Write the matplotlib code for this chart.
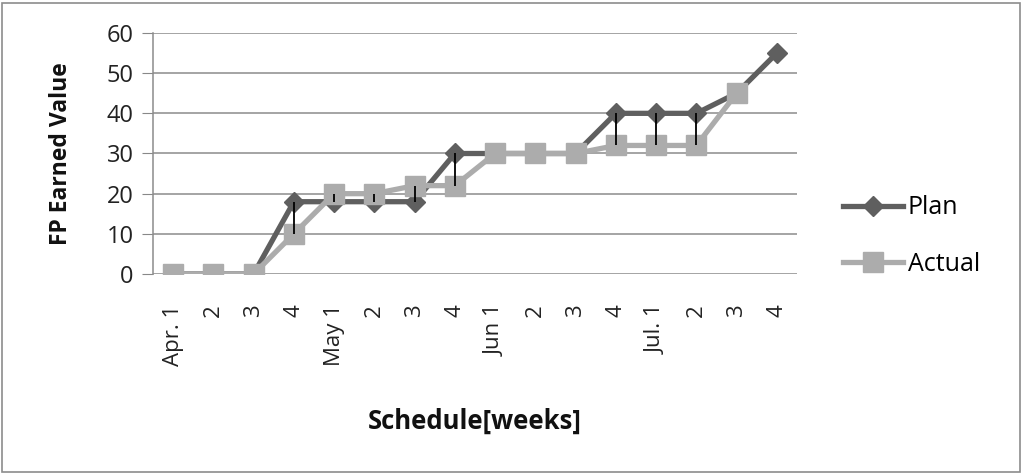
import numpy as np
import matplotlib
matplotlib.use("Agg")
from matplotlib import pyplot as plt
from matplotlib.patches import Rectangle

plt.rcParams['font.family'] = ['Open Sans', 'DejaVu Sans']

WEEKS = ['Apr. 1', '2', '3', '4', 'May 1', '2', '3', '4',
         'Jun 1', '2', '3', '4', 'Jul. 1', '2', '3', '4']
PLAN = [0, 0, 0, 18, 18, 18, 18, 30, 30, 30, 30, 40, 40, 40, 45, 55]
ACTUAL = [0, 0, 0, 10, 20, 20, 22, 22, 30, 30, 30, 32, 32, 32, 45]

def main():
    fig = plt.figure(figsize=(10.25, 4.74), dpi=100)
    ax = fig.add_axes([153/1025, 1 - 274/474, 644/1025, 241/474])

    x = np.arange(len(WEEKS))
    xa = x[:len(ACTUAL)]

    # hi-lo lines between plan and actual
    ax.vlines(xa, np.array(PLAN[:len(ACTUAL)]), np.array(ACTUAL),
              color='black', lw=1.3, zorder=5)

    ax.plot(x, PLAN, color='#5f5f5f', lw=3.8, marker='D', markersize=10,
            label='Plan', zorder=3)
    ax.plot(xa, ACTUAL, color='#acacac', lw=3.8, marker='s', markersize=14.5,
            label='Actual', zorder=4)

    ax.set_xlim(-0.5, len(WEEKS) - 0.5)
    ax.set_ylim(0, 60)
    ax.set_yticks(range(0, 61, 10))
    ax.set_xticks(x)
    ax.set_xticklabels(WEEKS, rotation=90, fontsize=16, color='#222222')
    ax.tick_params(axis='y', labelsize=17, length=8, color='#888888',
                   labelcolor='#222222', pad=6)
    ax.tick_params(axis='x', length=0, pad=22)
    ax.grid(axis='y', color='#8c8c8c', lw=1.1)
    ax.set_axisbelow(True)
    for s in ['top', 'right', 'bottom']:
        ax.spines[s].set_visible(False)
    ax.spines['left'].set_color('#8c8c8c')
    ax.spines['left'].set_linewidth(1.1)

    ax.set_ylabel('FP Earned Value', fontsize=16.5, fontweight='bold',
                  va='center', color='#111111')
    ax.yaxis.set_label_coords(-0.143, 0.5)
    ax.set_xlabel('Schedule[weeks]', fontsize=18.5, fontweight='bold',
                  va='center', color='#111111')
    ax.xaxis.set_label_coords(0.5, -0.61)

    ax.legend(loc='center left', bbox_to_anchor=(1.071, 0.158),
              frameon=False, fontsize=18, handlelength=2.4,
              labelspacing=1.25, handletextpad=0.2,
              borderpad=0, borderaxespad=0)

    fig.patches.append(Rectangle((0.002, 0.004), 0.993, 0.99,
                                 transform=fig.transFigure, fill=False,
                                 edgecolor='#8c8c8c', lw=1.2))
    fig.savefig('out.png', dpi=100)

main()
